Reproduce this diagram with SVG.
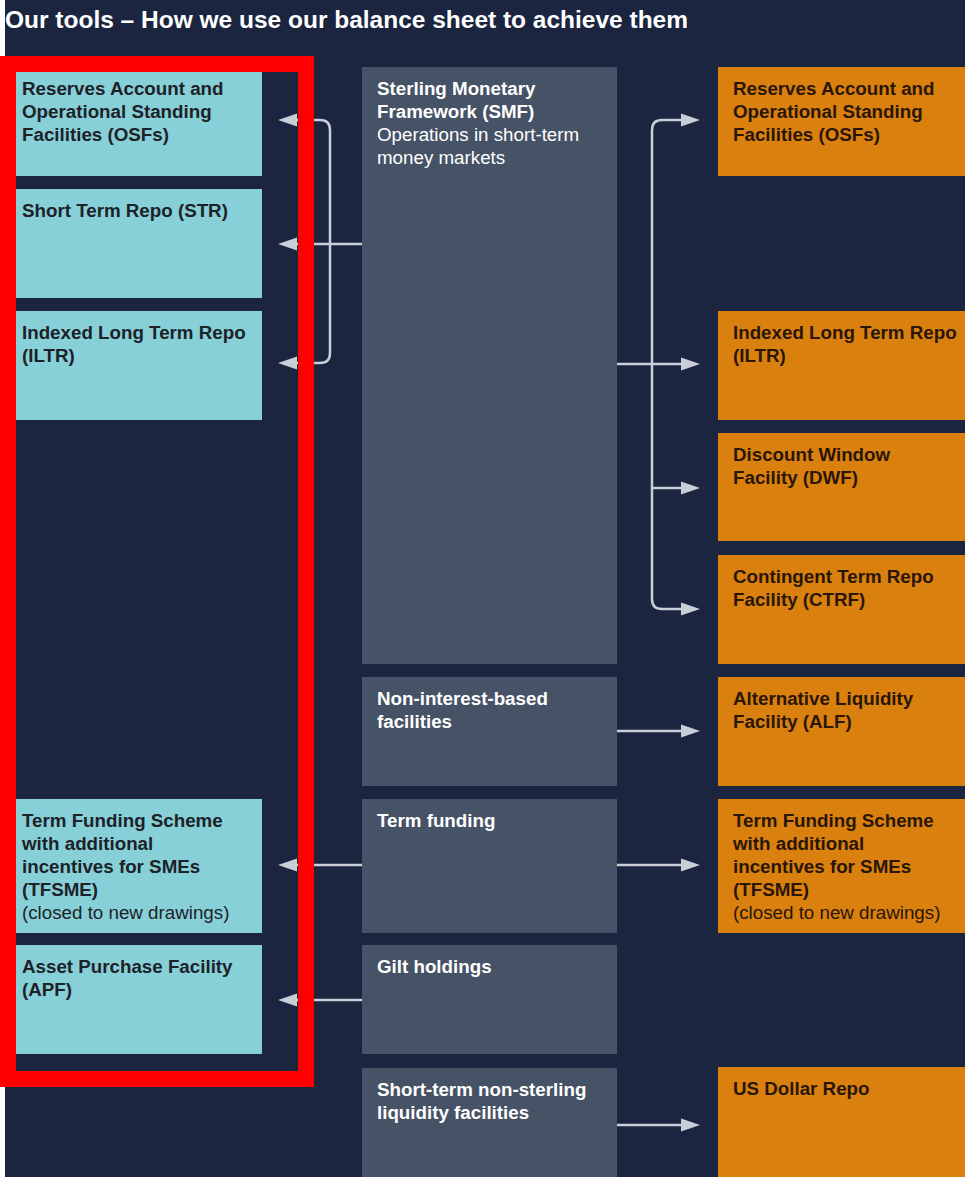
<svg xmlns="http://www.w3.org/2000/svg" width="965" height="1177" viewBox="0 0 965 1177">
  <defs>
    <marker id="arr" markerUnits="userSpaceOnUse" markerWidth="20" markerHeight="14" refX="0" refY="7" orient="auto">
      <path d="M0,0.5 L19,7 L0,13.5 z" fill="#c9ced8"/>
    </marker>
  </defs>
  <style>
    .bg { fill: #1b2540; }
    .cyan { fill: #88d0d8; }
    .gray { fill: #465266; }
    .orange { fill: #d9800f; }
    .t { font-family: "Liberation Sans", Arial, sans-serif; font-size: 18.75px; }
    .b { font-weight: bold; }
    .dk { fill: #1c2228; }
    .br { fill: #2a1606; }
    .wh { fill: #ffffff; }
    .con { fill: none; stroke: #c9ced8; stroke-width: 2.5; marker-end: url(#arr); }
    .title { font-family: "Liberation Sans", Arial, sans-serif; font-size: 24px; font-weight: bold; fill: #ffffff; }
  </style>
  <rect x="0" y="0" width="965" height="1177" class="bg"/>
  <rect x="0" y="0" width="5" height="1177" fill="#ffffff"/>
  <text x="5" y="28" class="title" textLength="683" lengthAdjust="spacingAndGlyphs">Our tools – How we use our balance sheet to achieve them</text>

  <!-- left column -->
  <g id="l-osf">
    <rect x="7" y="67" width="255" height="109" class="cyan"/>
    <text class="t b dk" x="22" y="95">Reserves Account and</text>
    <text class="t b dk" x="22" y="118">Operational Standing</text>
    <text class="t b dk" x="22" y="141">Facilities (OSFs)</text>
  </g>
  <g id="l-str">
    <rect x="7" y="189" width="255" height="109" class="cyan"/>
    <text class="t b dk" x="22" y="217">Short Term Repo (STR)</text>
  </g>
  <g id="l-iltr">
    <rect x="7" y="311" width="255" height="109" class="cyan"/>
    <text class="t b dk" x="22" y="339">Indexed Long Term Repo</text>
    <text class="t b dk" x="22" y="362">(ILTR)</text>
  </g>
  <g id="l-tfsme">
    <rect x="7" y="799" width="255" height="134" class="cyan"/>
    <text class="t b dk" x="22" y="827">Term Funding Scheme</text>
    <text class="t b dk" x="22" y="850">with additional</text>
    <text class="t b dk" x="22" y="873">incentives for SMEs</text>
    <text class="t b dk" x="22" y="896">(TFSME)</text>
    <text class="t dk" x="22" y="919">(closed to new drawings)</text>
  </g>
  <g id="l-apf">
    <rect x="7" y="945" width="255" height="109" class="cyan"/>
    <text class="t b dk" x="22" y="973">Asset Purchase Facility</text>
    <text class="t b dk" x="22" y="996">(APF)</text>
  </g>

  <!-- middle column -->
  <g id="m-smf">
    <rect x="362" y="67" width="255" height="597" class="gray"/>
    <text class="t b wh" x="377" y="95">Sterling Monetary</text>
    <text class="t b wh" x="377" y="118">Framework (SMF)</text>
    <text class="t wh" x="377" y="141">Operations in short-term</text>
    <text class="t wh" x="377" y="164">money markets</text>
  </g>
  <g id="m-nib">
    <rect x="362" y="677" width="255" height="109" class="gray"/>
    <text class="t b wh" x="377" y="705">Non-interest-based</text>
    <text class="t b wh" x="377" y="728">facilities</text>
  </g>
  <g id="m-tf">
    <rect x="362" y="799" width="255" height="134" class="gray"/>
    <text class="t b wh" x="377" y="827">Term funding</text>
  </g>
  <g id="m-gilt">
    <rect x="362" y="945" width="255" height="109" class="gray"/>
    <text class="t b wh" x="377" y="973">Gilt holdings</text>
  </g>
  <g id="m-nsl">
    <rect x="362" y="1068" width="255" height="109" class="gray"/>
    <text class="t b wh" x="377" y="1096">Short-term non-sterling</text>
    <text class="t b wh" x="377" y="1119">liquidity facilities</text>
  </g>

  <!-- right column -->
  <g id="r-osf">
    <rect x="718" y="67" width="247" height="109" class="orange"/>
    <text class="t b br" x="733" y="95">Reserves Account and</text>
    <text class="t b br" x="733" y="118">Operational Standing</text>
    <text class="t b br" x="733" y="141">Facilities (OSFs)</text>
  </g>
  <g id="r-iltr">
    <rect x="718" y="311" width="247" height="109" class="orange"/>
    <text class="t b br" x="733" y="339">Indexed Long Term Repo</text>
    <text class="t b br" x="733" y="362">(ILTR)</text>
  </g>
  <g id="r-dwf">
    <rect x="718" y="433" width="247" height="108" class="orange"/>
    <text class="t b br" x="733" y="461">Discount Window</text>
    <text class="t b br" x="733" y="484">Facility (DWF)</text>
  </g>
  <g id="r-ctrf">
    <rect x="718" y="555" width="247" height="109" class="orange"/>
    <text class="t b br" x="733" y="583">Contingent Term Repo</text>
    <text class="t b br" x="733" y="606">Facility (CTRF)</text>
  </g>
  <g id="r-alf">
    <rect x="718" y="677" width="247" height="109" class="orange"/>
    <text class="t b br" x="733" y="705">Alternative Liquidity</text>
    <text class="t b br" x="733" y="728">Facility (ALF)</text>
  </g>
  <g id="r-tfsme">
    <rect x="718" y="799" width="247" height="134" class="orange"/>
    <text class="t b br" x="733" y="827">Term Funding Scheme</text>
    <text class="t b br" x="733" y="850">with additional</text>
    <text class="t b br" x="733" y="873">incentives for SMEs</text>
    <text class="t b br" x="733" y="896">(TFSME)</text>
    <text class="t br" x="733" y="919">(closed to new drawings)</text>
  </g>
  <g id="r-usd">
    <rect x="718" y="1067" width="247" height="110" class="orange"/>
    <text class="t b br" x="733" y="1095">US Dollar Repo</text>
  </g>

  <!-- connectors -->
  <g id="connectors">
    <path class="con" d="M362,244 H297"/>
    <path class="con" d="M330,244 V130 Q330,120 320,120 H297"/>
    <path class="con" d="M330,244 V353 Q330,363 320,363 H297"/>
    <path class="con" d="M617,364 H681"/>
    <path class="con" d="M652,364 V130 Q652,120 662,120 H681"/>
    <path class="con" d="M652,364 V599 Q652,609 662,609 H681"/>
    <path class="con" d="M652,488 H681"/>
    <path class="con" d="M617,731 H681"/>
    <path class="con" d="M617,865 H681"/>
    <path class="con" d="M362,865 H297"/>
    <path class="con" d="M362,1000 H297"/>
    <path class="con" d="M617,1125 H681"/>
  </g>

  <!-- highlight frame -->
  <rect id="highlight" x="8" y="64" width="298" height="1015" fill="none" stroke="#ff0000" stroke-width="16"/>
</svg>
